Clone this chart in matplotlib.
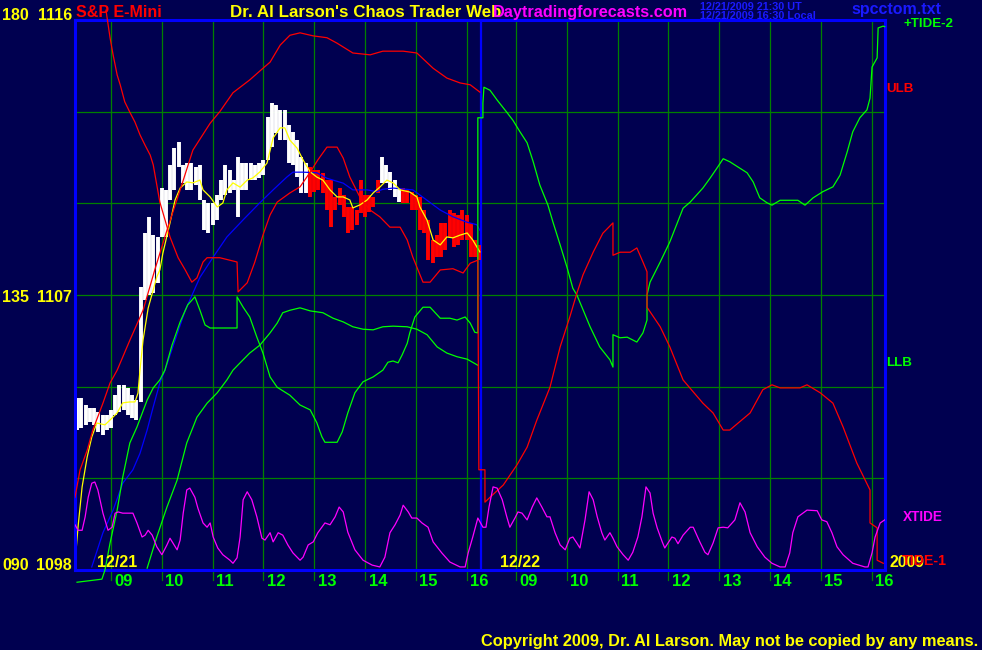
import numpy as np
import matplotlib
matplotlib.use("Agg")
import matplotlib.pyplot as plt
import matplotlib.transforms as mtransforms

# colours of the original chart
BG = "#000050"
GRID = "#008000"
BORDER = "#0000ff"
LIME = "#00ff00"
RED = "#ff0000"
YELLOW = "#ffff00"
MAGENTA = "#ff00ff"

ARIAL = ["Liberation Sans", "DejaVu Sans"]

# ---- time axis: hours since session start, day 2 follows day 1 ----
SESSION_START = 8.29
DAY_SPAN = 7.97
HOURS = [9, 10, 11, 12, 13, 14, 15, 16]
DAY_LABELS = ["12/21", "12/22"]

# ---- 5 minute price bars, day 1 (S&P E-Mini) ----
BAR_HIGH = [1103.63, 1103.63, 1103.40, 1103.30, 1103.30, 1103.17, 1103.07, 1103.07, 1103.24, 1103.73,
            1104.06, 1104.06, 1103.96, 1103.73, 1103.56, 1107.26, 1109.03, 1109.55, 1108.96, 1108.90,
            1110.50, 1110.44, 1111.26, 1111.81, 1112.01, 1111.26, 1111.32, 1111.32, 1111.19, 1111.26,
            1110.11, 1110.01, 1110.01, 1110.27, 1110.76, 1111.26, 1111.09, 1110.76, 1111.52, 1111.32,
            1111.32, 1111.32, 1111.26, 1111.32, 1111.42, 1112.83, 1113.28, 1113.22, 1113.06, 1113.06,
            1112.56, 1112.34, 1112.07, 1111.52, 1111.32, 1111.19, 1111.09, 1111.09, 1110.99, 1110.76,
            1110.76, 1110.21, 1110.50, 1110.27, 1109.88, 1109.88, 1109.78, 1110.76, 1110.27, 1110.27,
            1110.21, 1110.76, 1111.52, 1111.26, 1111.03, 1110.76, 1110.50, 1110.50, 1110.44, 1110.37,
            1110.27, 1110.21, 1109.78, 1109.46, 1108.80, 1108.96, 1109.36, 1109.36, 1109.78, 1109.68,
            1109.62, 1109.78, 1109.62, 1109.36, 1108.80, 1108.64]
BAR_LOW = [1102.58, 1102.65, 1102.75, 1102.84, 1102.75, 1102.52, 1102.42, 1102.58, 1102.65, 1103.07,
           1103.17, 1103.24, 1103.07, 1102.98, 1102.91, 1103.50, 1106.84, 1107.00, 1107.07, 1107.40,
           1108.90, 1108.90, 1110.11, 1110.44, 1111.19, 1110.67, 1110.44, 1110.44, 1110.60, 1110.11,
           1109.13, 1109.03, 1109.29, 1109.46, 1110.11, 1110.27, 1110.34, 1110.44, 1109.55, 1110.44,
           1110.44, 1110.76, 1110.76, 1110.83, 1110.93, 1111.42, 1111.84, 1112.30, 1112.07, 1112.07,
           1111.32, 1111.26, 1110.86, 1110.34, 1110.34, 1110.21, 1110.37, 1110.44, 1110.34, 1109.78,
           1109.23, 1109.78, 1109.95, 1109.55, 1109.03, 1109.13, 1109.29, 1109.68, 1109.55, 1109.72,
           1109.88, 1110.34, 1110.67, 1110.67, 1110.44, 1110.21, 1110.04, 1110.01, 1110.01, 1109.78,
           1109.78, 1109.13, 1109.03, 1108.15, 1108.05, 1108.24, 1108.24, 1108.47, 1108.90, 1108.57,
           1108.64, 1108.80, 1108.80, 1108.24, 1108.24, 1108.15]
BAR_COLOUR = "w" * 55 + "r" * 17 + "w" * 5 + "r" * 19

# ---- fast average (yellow), price units ----
FAST_T = [0.00, 0.06, 0.14, 0.24, 0.33, 0.43, 0.59, 0.69, 0.83, 0.94, 1.08, 1.18, 1.24, 1.28, 1.34, 1.44,
          1.61, 1.67, 1.73, 1.87, 1.97, 2.07, 2.20, 2.32, 2.46, 2.52, 2.66, 2.80, 2.91, 2.99, 3.11, 3.25,
          3.39, 3.50, 3.64, 3.78, 3.90, 4.04, 4.13, 4.23, 4.37, 4.49, 4.63, 4.76, 4.88, 5.02, 5.16, 5.28,
          5.41, 5.47, 5.61, 5.75, 5.87, 6.00, 6.14, 6.26, 6.40, 6.59, 6.73, 6.79, 6.93, 7.05, 7.19, 7.32,
          7.44, 7.58, 7.72, 7.83, 7.97]
FAST_P = [1098.23, 1099.41, 1100.72, 1101.70, 1102.35, 1102.81, 1102.75, 1102.91, 1103.14, 1103.47, 1103.50,
          1103.50, 1103.79, 1104.55, 1105.53, 1106.57, 1107.59, 1107.82, 1108.37, 1109.36, 1110.11, 1110.50,
          1110.70, 1110.67, 1110.76, 1110.44, 1110.21, 1109.88, 1110.01, 1110.44, 1110.67, 1110.53, 1110.76,
          1110.83, 1111.03, 1111.32, 1112.14, 1112.47, 1112.47, 1112.07, 1111.81, 1111.42, 1111.03, 1110.86,
          1110.76, 1110.44, 1110.21, 1110.21, 1110.11, 1109.85, 1109.95, 1110.11, 1110.34, 1110.53, 1110.76,
          1110.67, 1110.44, 1110.37, 1110.21, 1109.88, 1109.45, 1108.80, 1108.64, 1108.90, 1108.87, 1108.96,
          1109.03, 1108.80, 1108.41]

# ---- slow average (blue), price units ----
SLOW_T = [0.33, 0.55, 0.75, 0.94, 1.14, 1.28, 1.42, 1.54, 1.67, 1.77, 1.97, 2.17, 2.46, 2.72, 2.99, 3.31,
          3.64, 3.90, 4.17, 4.29, 4.49, 4.76, 4.96, 5.28, 5.47, 5.75, 5.94, 6.06, 6.26, 6.65, 6.93, 7.19,
          7.44, 7.72, 7.91, 7.97]
SLOW_P = [1098.10, 1099.22, 1099.96, 1100.84, 1101.28, 1101.82, 1102.58, 1103.34, 1104.12, 1104.54, 1105.52,
          1106.50, 1107.58, 1108.24, 1108.90, 1109.46, 1110.02, 1110.44, 1110.86, 1111.02, 1111.02, 1111.00,
          1110.82, 1110.66, 1110.44, 1110.44, 1110.38, 1110.46, 1110.50, 1110.44, 1110.10, 1109.78, 1109.56,
          1109.38, 1109.30, 1109.12]

# ---- tide scale (090 - 180) lines ----
ULB_T = [0.00, 0.10, 0.24, 0.35, 0.55, 0.69, 0.83, 1.08, 1.34, 1.57, 1.81, 2.07, 2.32, 2.66, 2.85, 3.11,
         3.44, 3.70, 3.84, 4.04, 4.23, 4.43, 4.69, 4.96, 5.16, 5.47, 5.81, 6.06, 6.46, 6.73, 7.05, 7.32,
         7.58, 7.78, 7.97]
ULB_V = [101.9, 106.4, 109.6, 112.9, 117.3, 120.6, 122.7, 127.6, 132.5, 139.1, 145.6, 152.2, 158.7, 163.1,
         165.0, 168.1, 170.2, 172.1, 173.1, 175.9, 177.5, 177.9, 177.4, 177.1, 176.2, 174.6, 174.3, 174.9,
         174.9, 174.6, 172.1, 170.5, 169.7, 169.4, 168.2]

TIDE1_T = [0.61, 0.69, 0.75, 0.83, 0.89, 0.98, 1.08, 1.18, 1.28, 1.38, 1.48, 1.54, 1.67, 1.87, 2.03, 2.17,
           2.30, 2.40, 2.52, 2.60, 2.85, 3.19, 3.21, 3.39, 3.54, 3.70, 3.84, 3.98, 4.23, 4.43, 4.63, 4.78,
           4.96, 5.16, 5.28, 5.41, 5.61, 5.81, 6.00, 6.20, 6.40, 6.54, 6.65, 6.85, 6.99, 7.19, 7.44, 7.64,
           7.78, 7.93, 7.95, 8.07, 8.07, 8.17, 8.43, 8.70, 8.90, 9.09, 9.35, 9.55, 9.74, 9.88, 10.00, 10.20,
           10.39, 10.59, 10.59, 10.73, 10.93, 11.06, 11.18, 11.26, 11.26, 11.52, 11.71, 11.97, 12.36, 12.56,
           12.76, 12.89, 13.29, 13.54, 13.72, 13.88, 14.27, 14.41, 14.67, 14.92, 15.12, 15.39, 15.65, 15.65,
           15.79, 15.79, 15.91]
TIDE1_V = [181.6, 177.1, 174.3, 171.0, 169.4, 166.6, 164.9, 163.3, 161.2, 159.5, 157.9, 156.3, 150.2, 144.5,
           141.1, 139.1, 137.1, 137.8, 140.4, 141.1, 141.1, 140.4, 135.5, 137.0, 140.4, 144.8, 148.1, 150.2,
           151.7, 152.7, 155.1, 157.1, 159.2, 159.2, 157.4, 154.3, 151.0, 148.9, 147.8, 146.1, 146.1, 144.0,
           141.2, 137.1, 137.1, 139.1, 139.3, 138.6, 140.2, 140.7, 106.4, 106.4, 101.1, 101.9, 103.9, 107.2,
           110.1, 114.5, 119.9, 126.5, 131.4, 135.3, 138.3, 142.0, 145.1, 146.8, 141.5, 142.0, 142.0, 142.7,
           140.4, 138.8, 133.0, 129.8, 126.5, 121.1, 117.3, 115.7, 112.9, 112.9, 115.7, 119.5, 120.3, 119.8,
           119.8, 120.3, 119.0, 117.3, 113.4, 107.5, 103.1, 97.7, 96.9, 91.6, 91.1]

TIDE2_T = [0.04, 0.53, 0.59, 0.69, 0.83, 0.94, 1.08, 1.22, 1.42, 1.54, 1.67, 1.77, 1.91, 2.07, 2.22, 2.36,
           2.46, 2.56, 2.66, 3.19, 3.19, 3.31, 3.44, 3.58, 3.70, 3.84, 3.98, 4.23, 4.43, 4.63, 4.76, 4.86,
           4.92, 5.16, 5.26, 5.37, 5.51, 5.67, 5.87, 6.06, 6.16, 6.26, 6.36, 6.44, 6.54, 6.59, 6.69, 6.85,
           6.99, 7.19, 7.38, 7.52, 7.68, 7.78, 7.87, 7.93, 7.93, 8.03, 8.03, 8.05, 8.17, 8.31, 8.50, 8.62,
           8.76, 8.90, 9.02, 9.15, 9.31, 9.41, 9.55, 9.69, 9.80, 9.88, 10.14, 10.33, 10.53, 10.59, 10.59,
           10.73, 10.87, 11.06, 11.18, 11.26, 11.26, 11.32, 11.52, 11.71, 11.97, 12.11, 12.36, 12.50, 12.64,
           12.76, 12.89, 13.23, 13.35, 13.48, 13.62, 13.72, 13.88, 14.23, 14.37, 14.53, 14.72, 14.92, 15.06,
           15.20, 15.31, 15.45, 15.59, 15.65, 15.69, 15.79, 15.81, 15.91, 15.94]
TIDE2_V = [88.0, 88.5, 90.0, 94.4, 99.8, 105.2, 110.8, 113.4, 117.8, 119.8, 121.1, 122.7, 126.8, 130.6, 133.4,
           134.7, 132.5, 130.1, 129.6, 129.6, 134.7, 133.0, 131.4, 128.1, 125.5, 121.6, 119.9, 118.6, 117.0,
           116.2, 114.1, 111.8, 110.9, 110.9, 112.6, 115.7, 119.0, 120.8, 121.6, 122.7, 124.0, 124.2, 123.9,
           125.2, 127.1, 128.8, 131.4, 133.0, 133.0, 131.2, 131.2, 130.9, 131.4, 130.4, 128.9, 128.8, 164.0,
           164.0, 166.4, 169.0, 168.5, 166.9, 164.9, 163.6, 161.7, 159.9, 156.8, 153.0, 149.7, 146.9, 143.2,
           139.4, 136.1, 135.0, 129.8, 126.5, 124.4, 123.2, 128.5, 128.0, 128.1, 127.3, 128.8, 130.9, 135.0,
           137.1, 140.4, 143.7, 149.2, 150.2, 152.5, 154.1, 155.8, 157.3, 156.8, 155.0, 153.5, 150.9, 150.1,
           149.7, 150.5, 150.5, 149.7, 150.9, 151.9, 152.7, 154.6, 158.4, 161.7, 164.0, 165.3, 167.2, 172.3,
           173.8, 178.7, 179.0, 178.9]

LLB_T = [1.42, 1.61, 1.81, 2.01, 2.20, 2.40, 2.60, 2.80, 2.99, 3.11, 3.25, 3.44, 3.64, 3.84, 3.98, 4.09,
         4.23, 4.43, 4.63, 4.88, 5.08, 5.28, 5.47, 5.67, 5.87, 6.06, 6.26, 6.54, 6.73, 6.93, 7.13, 7.32,
         7.52, 7.72, 7.93]
LLB_V = [90.3, 95.4, 100.3, 104.7, 110.8, 115.0, 117.3, 119.0, 121.1, 122.7, 123.9, 125.5, 126.8, 128.8,
         130.4, 132.1, 132.5, 132.9, 132.4, 132.1, 131.2, 130.6, 129.8, 129.4, 129.3, 129.8, 129.9, 129.8,
         129.4, 128.5, 126.5, 125.5, 124.9, 124.5, 123.5]

XTIDE_T = [0.00, 0.06, 0.14, 0.20, 0.26, 0.33, 0.39, 0.45, 0.55, 0.65, 0.73, 0.79, 0.85, 0.94, 1.14, 1.22,
           1.32, 1.38, 1.44, 1.52, 1.61, 1.71, 1.81, 1.87, 1.93, 2.01, 2.07, 2.13, 2.20, 2.26, 2.36, 2.42,
           2.52, 2.60, 2.66, 2.72, 2.81, 2.91, 3.05, 3.11, 3.19, 3.25, 3.31, 3.39, 3.48, 3.58, 3.68, 3.74,
           3.84, 3.90, 4.00, 4.09, 4.19, 4.29, 4.43, 4.49, 4.59, 4.69, 4.78, 4.92, 5.02, 5.12, 5.20, 5.28,
           5.37, 5.51, 5.67, 5.85, 6.00, 6.10, 6.20, 6.30, 6.40, 6.46, 6.56, 6.63, 6.73, 6.83, 6.95, 7.05,
           7.22, 7.38, 7.58, 7.68, 7.74, 7.83, 7.93, 8.03, 8.09, 8.15, 8.23, 8.31, 8.41, 8.50, 8.56, 8.66,
           8.72, 8.80, 8.90, 9.00, 9.09, 9.19, 9.29, 9.35, 9.45, 9.55, 9.65, 9.74, 9.80, 9.88, 9.94, 10.04,
           10.12, 10.20, 10.28, 10.37, 10.43, 10.53, 10.59, 10.67, 10.79, 10.89, 10.98, 11.08, 11.16, 11.24,
           11.32, 11.38, 11.46, 11.56, 11.61, 11.75, 11.81, 11.87, 11.97, 12.11, 12.17, 12.30, 12.40, 12.46,
           12.56, 12.66, 12.76, 12.85, 12.99, 13.09, 13.19, 13.29, 13.43, 13.58, 13.72, 13.88, 13.98, 14.07,
           14.13, 14.23, 14.41, 14.61, 14.70, 14.80, 14.90, 15.00, 15.12, 15.31, 15.55, 15.61, 15.69, 15.75,
           15.85, 15.94]
XTIDE_V = [97.4, 96.5, 96.5, 98.7, 101.9, 104.2, 104.4, 103.1, 99.3, 96.5, 97.0, 99.3, 99.5, 99.3, 99.3, 97.7,
           95.4, 95.7, 96.5, 95.7, 93.8, 92.5, 94.1, 95.2, 94.4, 93.3, 94.9, 99.3, 103.1, 103.4, 101.9, 100.1,
           97.7, 97.0, 97.7, 95.4, 93.6, 92.5, 91.6, 91.1, 92.0, 95.4, 101.5, 102.8, 101.5, 98.7, 95.2, 94.9,
           96.1, 94.6, 96.1, 95.7, 94.1, 92.8, 91.6, 92.1, 94.1, 94.6, 96.1, 97.7, 97.4, 98.7, 100.3, 99.5,
           96.2, 93.3, 91.6, 90.8, 90.5, 92.1, 96.1, 97.4, 99.0, 100.6, 99.5, 98.5, 98.5, 97.7, 97.0, 94.6,
           92.8, 91.3, 90.5, 90.5, 92.8, 95.4, 98.5, 97.0, 97.0, 100.3, 103.6, 103.4, 101.5, 98.7, 97.0, 98.5,
           99.5, 99.3, 98.2, 100.3, 101.8, 100.3, 98.7, 98.7, 96.1, 94.1, 93.3, 95.2, 95.4, 94.4, 93.6, 98.2,
           102.8, 101.5, 98.7, 96.1, 94.9, 96.1, 95.2, 93.8, 92.5, 91.6, 92.9, 95.4, 98.7, 103.6,
           102.6, 99.3, 96.9, 94.6, 93.6, 95.4, 95.2, 94.3, 95.7, 97.0, 97.0, 94.6, 92.9, 92.5,
           94.4, 96.9, 97.0, 96.9, 98.2, 101.0, 99.5, 96.1, 93.8, 92.1, 91.1, 90.5, 90.5, 92.8,
           96.1, 98.7, 99.8, 99.7, 98.2, 97.9, 96.1, 93.8, 92.5, 91.1, 90.5, 90.5, 92.8, 95.4,
           97.7, 98.2]

# ---- figure ----
W, H = 982, 650
fig = plt.figure(figsize=(W / 100, H / 100), dpi=100, facecolor=BG)
ax = fig.add_axes([75 / W, 80 / H, 810 / W, 550 / H])
ax.set_facecolor(BG)
ax.set_xlim(0, 15.945)
ax.set_ylim(1098, 1116)
ax.set_xticks([])
ax.set_yticks([])
for s in ax.spines.values():
    s.set_color(BORDER)
    s.set_linewidth(2.2)
    s.set_zorder(10)

ax2 = ax.twinx()
ax2.set_ylim(90, 180)
ax2.set_yticks([])
ax2.set_xticks([])
for s in ax2.spines.values():
    s.set_visible(False)

# grid
for p in [1101, 1104, 1107, 1110, 1113]:
    ax.axhline(p, color=GRID, lw=0.9, zorder=0)

trans = mtransforms.blended_transform_factory(ax.transData, ax.transAxes)
for day in range(2):
    for h in HOURS:
        t = h - SESSION_START + DAY_SPAN * day
        ax.plot([t, t], [-0.018, 1], color=GRID, lw=0.9, transform=trans, clip_on=False, zorder=0)
        ax.text(t + 0.07, -0.008, f"{h:02d}", transform=trans, color=LIME, fontsize=12,
                fontweight="bold", family=ARIAL, va="top", ha="left")

# day separator
ax.axvline(DAY_SPAN + 0.02, color=BORDER, lw=1.6, zorder=1)

# price bars
bar_t = (np.arange(len(BAR_HIGH)) + 0.5) * 5 / 60
bar_cols = ["#ffffff" if c == "w" else RED for c in BAR_COLOUR]
ax.vlines(bar_t, BAR_LOW, BAR_HIGH, colors=bar_cols, lw=2.8, zorder=2)

ax.plot(SLOW_T, SLOW_P, color=BORDER, lw=0.9, zorder=3)
ax.plot(FAST_T, FAST_P, color=YELLOW, lw=0.9, zorder=4)

# tide lines
ax2.plot(LLB_T, LLB_V, color=LIME, lw=0.9)
ax2.plot(TIDE2_T, TIDE2_V, color=LIME, lw=0.9, clip_on=False)
ax2.plot(ULB_T, ULB_V, color=RED, lw=0.9)
ax2.plot(TIDE1_T, TIDE1_V, color=RED, lw=0.9, clip_on=False)
ax2.plot(XTIDE_T, XTIDE_V, color=MAGENTA, lw=0.9)


def label(x, y, s, color, size, ha="left"):
    fig.text(x / W, 1 - y / H, s, color=color, fontsize=size, family=ARIAL,
             fontweight="bold", ha=ha, va="baseline")


# scale labels
for y, tide, price in [(20, "180", "1116"), (302, "135", "1107"), (570, "090", "1098")]:
    label(2, y, tide, YELLOW, 11.5)
    label(72, y, price, YELLOW, 11.5, ha="right")

label(97, 567, DAY_LABELS[0], YELLOW, 11.5)
label(500, 567, DAY_LABELS[1], YELLOW, 11.5)
label(890, 567, "2009", YELLOW, 11.3)

# header
label(76, 17, "S&P E-Mini", RED, 11.5)
label(230, 17, "Dr. Al Larson's Chaos Trader Web", YELLOW, 12.2)
label(493, 17, "Daytradingforecasts.com", MAGENTA, 11.7)
label(700, 10, "12/21/2009 21:30 UT", "#1a1aff", 7.8)
label(700, 19, "12/21/2009 16:30 Local", "#1a1aff", 7.8)
label(851, 14, "spcctom.txt", "#1a1aff", 11.5)

# right side legend
label(903, 27, "+TIDE-2", LIME, 9.6)
label(886, 92, "ULB", RED, 9.6)
label(886, 366, "LLB", LIME, 9.6)
label(903, 521, "XTIDE", MAGENTA, 9.8)
label(902, 565, "TIDE-1", RED, 10.2)

label(481, 646, "Copyright 2009, Dr. Al Larson. May not be copied by any means.", YELLOW, 11.8)

fig.savefig("out.png", dpi=100, facecolor=BG)
